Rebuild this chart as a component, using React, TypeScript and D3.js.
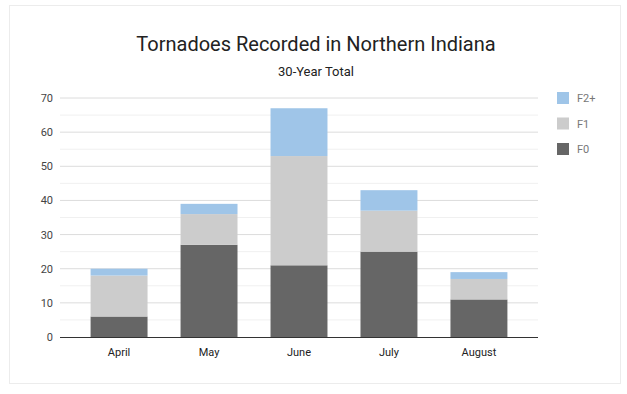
import React, { useEffect, useRef } from "react";
import * as d3 from "d3";

const months = ["April", "May", "June", "July", "August"];
const f0 = [6, 27, 21, 25, 11];
const f1 = [12, 9, 32, 12, 6];
const f2 = [2, 3, 14, 6, 2];
const seriesNames = ["F0", "F1", "F2+"];
const yTicks = [0, 10, 20, 30, 40, 50, 60, 70];

const colors: Record<string, string> = { F0: "#666666", F1: "#cccccc", "F2+": "#9fc5e8" };

const W = 627;
const H = 394;
const font = "Roboto, 'Noto Sans', sans-serif";

const App = () => {
  const ref = useRef<SVGSVGElement>(null);

  useEffect(() => {
    const svg = d3.select(ref.current);
    svg.selectAll("*").remove();

    // card
    svg.append("rect")
      .attr("x", 9.5).attr("y", 5.5).attr("width", 611).attr("height", 378)
      .attr("fill", "#fff").attr("stroke", "#ececec");

    svg.append("text")
      .attr("x", 316).attr("y", 51)
      .attr("text-anchor", "middle").attr("font-family", font)
      .attr("font-size", 20).attr("fill", "#222")
      .text("Tornadoes Recorded in Northern Indiana");
    svg.append("text")
      .attr("x", 316).attr("y", 76)
      .attr("text-anchor", "middle").attr("font-family", font)
      .attr("font-size", 13).attr("fill", "#222")
      .text("30-Year Total");

    const x = d3.scaleBand().domain(months).range([60, 538]).paddingInner(0.367).paddingOuter(0.34);
    const y = d3.scaleLinear().domain([0, 70]).range([337, 98]);

    const g = svg.append("g");
    // minor gridlines
    g.selectAll("line.minor")
      .data(d3.range(5, 70, 10))
      .join("line")
      .attr("x1", 60).attr("x2", 538)
      .attr("y1", d => y(d)).attr("y2", d => y(d))
      .attr("stroke", "#f0f0f0");
    g.selectAll("line.major")
      .data(yTicks.slice(1))
      .join("line")
      .attr("x1", 60).attr("x2", 538)
      .attr("y1", d => y(d)).attr("y2", d => y(d))
      .attr("stroke", "#dcdcdc");

    g.selectAll("text.ytick")
      .data(yTicks)
      .join("text")
      .attr("x", 53).attr("y", d => y(d) + 4)
      .attr("text-anchor", "end").attr("font-family", font)
      .attr("font-size", 11).attr("fill", "#444")
      .text(d => d);

    const rows = months.map((m, i) => ({ month: m, F0: f0[i], F1: f1[i], "F2+": f2[i] }));
    const stack = d3.stack<any>().keys(seriesNames)(rows);

    svg.append("g")
      .selectAll("g")
      .data(stack)
      .join("g")
      .attr("fill", d => colors[d.key])
      .selectAll("rect")
      .data(d => d)
      .join("rect")
      .attr("x", d => x(d.data.month)!)
      .attr("width", x.bandwidth())
      .attr("y", d => y(d[1]))
      .attr("height", d => y(d[0]) - y(d[1]));

    svg.append("line")
      .attr("x1", 60).attr("x2", 538)
      .attr("y1", y(0) + 0.5).attr("y2", y(0) + 0.5)
      .attr("stroke", "#333");

    svg.append("g")
      .selectAll("text")
      .data(months)
      .join("text")
      .attr("x", d => x(d)! + x.bandwidth() / 2)
      .attr("y", 356)
      .attr("text-anchor", "middle").attr("font-family", font)
      .attr("font-size", 11).attr("fill", "#222")
      .text(d => d);

    const legend = svg.append("g")
      .selectAll("g")
      .data(seriesNames.slice().reverse())
      .join("g")
      .attr("transform", (d, i) => `translate(557, ${92 + i * 25.5})`);
    legend.append("rect")
      .attr("width", 12).attr("height", 12)
      .attr("fill", d => colors[d]);
    legend.append("text")
      .attr("x", 20).attr("y", 10)
      .attr("font-family", font).attr("font-size", 11).attr("fill", "#777")
      .text(d => d);
  }, []);

  return (
    <svg ref={ref} width={W} height={H} style={{ position: "absolute", left: 0, top: 0 }} />
  );
};

export default App;
